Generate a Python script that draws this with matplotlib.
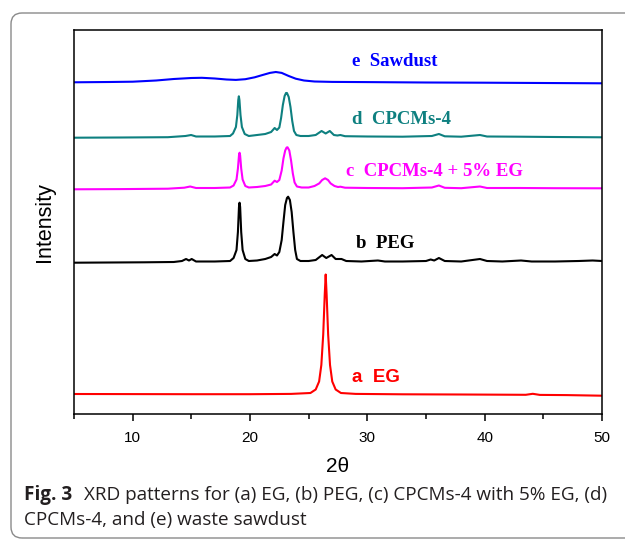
import matplotlib
matplotlib.use("Agg")
import matplotlib.pyplot as plt
import matplotlib.transforms as mtransforms
from matplotlib.patches import FancyBboxPatch
from matplotlib.ticker import MultipleLocator

# XRD patterns, intensity above each trace's own baseline (a.u.)
tt_eg = [5, 10, 15, 20, 23.5, 25.15, 25.6, 25.89, 26.08, 26.24, 26.37, 26.45,
         26.53, 26.66, 26.82, 27.01, 27.3, 27.75, 29, 33, 38, 43.5, 44.1, 44.7, 47, 50]
int_eg = [0.5, 0.4, 0.3, 0.3, 0.6, 1.5, 5, 13, 29.5, 60, 100, 120,
          100, 60, 29.5, 13, 5, 1.5, 0.6, 0.2, 0, -0.3, 0.7, -0.4, -0.6, -1.2]

tt_peg = [5, 8, 11, 13.5, 14.2, 14.55, 14.8, 15.03, 15.4, 17, 18.3, 18.6, 18.85,
          18.97, 19.06, 19.11, 19.16, 19.25, 19.37, 19.6, 19.9, 20.6, 21.3, 21.8,
          22.1, 22.3, 22.5, 22.7, 22.85, 23.0, 23.15, 23.25, 23.4, 23.55, 23.7,
          23.85, 24.0, 24.3, 25.0, 25.6, 26.15, 26.5, 26.95, 27.3, 27.8, 28.2,
          29.5, 30.9, 31.5, 33, 35.0, 35.4, 35.7, 36.1, 36.6, 38, 39.6, 40.2,
          41.5, 43.1, 44, 46, 48, 49.2, 50]
int_peg = [-0.7, -0.5, -0.3, 0, 1, 3, 1.5, 3, 0.5, 0.5, 1, 4, 12,
           30, 55, 59.3, 55, 30, 12, 3, 1, 1.5, 3, 5,
           8, 6.5, 10, 22, 40, 57, 64, 65.3, 62, 50, 30,
           12, 3, 1, 1, 2, 7, 4, 7, 3, 3, 1,
           0.5, 1.5, 0.5, 0.5, 1, 2.5, 1.5, 4, 1, 0.5, 3, 1,
           0.5, 1.5, 0.5, 0.5, 1, 1.5, 1]

tt_mix = [5, 9, 13, 14.4, 14.9, 15.4, 17, 18.3, 18.6, 18.85, 18.97, 19.06, 19.11,
          19.16, 19.25, 19.37, 19.6, 19.9, 20.6, 21.3, 21.8, 22.1, 22.3, 22.5,
          22.7, 22.85, 23.0, 23.12, 23.2, 23.35, 23.5, 23.65, 23.8, 24.0, 24.4,
          25.0, 25.5, 25.9, 26.15, 26.4, 26.65, 26.87, 27.2, 27.5, 27.7, 28.1,
          30, 33, 35.5, 36.1, 36.6, 38, 39.6, 40.2, 43, 46, 50]
int_mix = [-0.8, -0.6, -0.2, 0.8, 2, 0.5, 0.5, 1, 3, 9,
           20, 33, 35.8, 33, 20, 9, 2.5, 1, 1.5, 2.5, 4, 7.8, 6.5, 8.5,
           18, 30, 38, 41, 41.2, 38, 28, 15, 6, 2, 1,
           1, 2.5, 5.1, 8.5, 10.2, 8.5, 5.1, 2.5, 1.5, 1.8, 0.8,
           0.5, 0.3, 1, 3, 0.7, 0.3, 2, 0.5, 0.5, 0.3, 0.2]

tt_cpcm = [5, 9, 13, 14.5, 14.98, 15.4, 17, 18.3, 18.55, 18.8, 18.92, 19.0, 19.05,
           19.1, 19.19, 19.31, 19.55, 19.9, 20.6, 21.3, 21.8, 22.1, 22.3, 22.5,
           22.65, 22.8, 22.95, 23.07, 23.15, 23.3, 23.45, 23.6, 23.75, 23.95,
           24.3, 25.0, 25.6, 26.1, 26.45, 26.8, 27.15, 27.45, 27.7, 28.1, 30,
           33, 35.5, 36.1, 36.6, 38, 39.6, 40.2, 43, 46, 50]
int_cpcm = [-0.7, -0.5, -0.2, 1, 2, 0.5, 0.5, 1, 3.5, 10,
            22, 37, 40.7, 37, 22, 10, 3, 1, 2, 3, 5, 9, 7, 9.5,
            19, 32, 41, 44, 44, 40, 30, 16, 6, 2,
            1, 1, 2, 6, 3.5, 6, 2, 1.5, 2, 0.8, 0.5,
            0.3, 1, 3, 0.7, 0.3, 2, 0.5, 0.3, 0, -0.3]

tt_saw = [5, 8, 10, 12, 13.5, 15, 15.9, 17, 18, 18.8, 19.6, 20.4, 21.1, 21.7,
          22.2, 22.7, 23.3, 23.9, 24.6, 25.5, 27, 30, 35, 40, 45, 50]
int_saw = [0.2, 0.5, 0.8, 2, 3.5, 4.5, 4.7, 4, 3, 2.6, 3.3, 5.2, 7.6, 9.6,
           10.5, 9.6, 6.5, 3.8, 2, 1, 0.6, 0.4, 0, -0.2, -0.5, -0.8]

# vertical stacking offsets (a.u.)
offsets = {"a": 19.5, "b": 152, "c": 225.5, "d": 277, "e": 331.5}

fig = plt.figure(figsize=(6.25, 5.4), dpi=100)

# rounded border around the figure panel, in pixel units
px = mtransforms.Affine2D().scale(1 / 625, 1 / 540) + fig.transFigure
frame = FancyBboxPatch((11, 2), 640, 525,
                       boxstyle="round,pad=0,rounding_size=11",
                       transform=px, fill=False, edgecolor="#8a8a8a",
                       linewidth=1.0, clip_on=False)
fig.patches.append(frame)

ax = fig.add_axes([74 / 625, 1 - 414 / 540, 528 / 625, 384 / 540])

traces = [
    (tt_eg, int_eg, offsets["a"], "#ff0000"),
    (tt_peg, int_peg, offsets["b"], "#000000"),
    (tt_mix, int_mix, offsets["c"], "#ff00ff"),
    (tt_cpcm, int_cpcm, offsets["d"], "#0e8080"),
    (tt_saw, int_saw, offsets["e"], "#0000ff"),
]
for tt, inten, off, col in traces:
    ax.plot(tt, [v + off for v in inten], color=col, lw=1.5,
            solid_joinstyle="round")

serif = "Liberation Serif"
ax.text(28.7, 352, "e  Sawdust", color="#0000ff", fontsize=13.5,
        fontweight="bold", family=serif, va="center")
ax.text(28.7, 294, "d  CPCMs-4", color="#0e8080", fontsize=13.5,
        fontweight="bold", family=serif, va="center")
ax.text(28.2, 243, "c  CPCMs-4 + 5% EG", color="#ff00ff", fontsize=13.5,
        fontweight="bold", family=serif, va="center")
ax.text(29.0, 170, "b  PEG", color="#000000", fontsize=13.5,
        fontweight="bold", family=serif, va="center")
ax.text(28.7, 37, "a  EG", color="#ff0000", fontsize=13.5,
        fontweight="bold", family="Liberation Sans", va="center")

ax.set_xlim(5, 50)
ax.set_ylim(0, 384)
ax.xaxis.set_major_locator(MultipleLocator(10))
ax.xaxis.set_minor_locator(MultipleLocator(5))
ax.tick_params(axis="x", which="major", direction="out", length=5,
               width=1.1, labelsize=11, pad=7)
ax.tick_params(axis="x", which="minor", direction="out", length=3.5, width=1.1)
ax.set_yticks([])
for lbl in ax.get_xticklabels():
    lbl.set_family("Liberation Sans")
for sp in ax.spines.values():
    sp.set_linewidth(1.1)

ax.set_xlabel("2θ", family="Liberation Sans", fontsize=15, labelpad=9)
ax.set_ylabel("Intensity", family="Liberation Sans", fontsize=15.5,
              labelpad=14)

# caption below the panel
cap_col = "#231f20"
cap_size = 13.6
head = fig.text(24 / 625, 1 - 495 / 540, "Fig. 3", family="Open Sans",
                fontweight="bold", fontsize=cap_size, color=cap_col,
                va="center")
fig.canvas.draw()
head_right = head.get_window_extent().x1 / (fig.dpi * fig.get_figwidth())
fig.text(head_right + 12 / 625, 1 - 495 / 540,
         "XRD patterns for (a) EG, (b) PEG, (c) CPCMs-4 with 5% EG, (d)",
         family="Open Sans", fontsize=cap_size, color=cap_col, va="center")
fig.text(24 / 625, 1 - 520 / 540, "CPCMs-4, and (e) waste sawdust",
         family="Open Sans", fontsize=cap_size, color=cap_col, va="center")

fig.savefig("out.png", dpi=100)
